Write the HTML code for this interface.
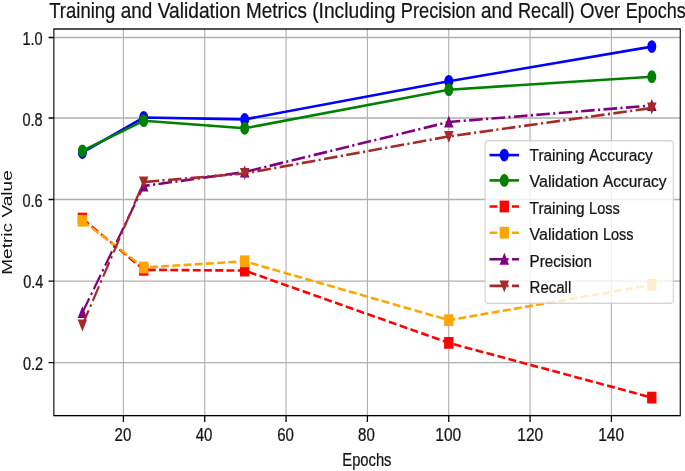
<!DOCTYPE html>
<html><head><meta charset="utf-8"><title>Training and Validation Metrics</title>
<style>
html,body{margin:0;padding:0;background:#fff;}
body{width:685px;height:471px;overflow:hidden;font-family:"Liberation Sans",sans-serif;}
svg{display:block;filter:blur(0.6px);}
</style></head><body>
<svg width="685" height="471" viewBox="0 0 685 471">
<rect x="0" y="0" width="685" height="471" fill="#ffffff"/>
<g transform="scale(1,1.21392)" font-family="'Liberation Sans', sans-serif" fill="#141414" stroke-linecap="butt">
<path d="M123.40 23.89V342.40M204.73 23.89V342.40M286.07 23.89V342.40M367.40 23.89V342.40M448.74 23.89V342.40M530.07 23.89V342.40M611.40 23.89V342.40M53.85 298.70H680.25M53.85 231.56H680.25M53.85 164.34H680.25M53.85 97.21H680.25M53.85 30.89H680.25" stroke="#b0b0b0" stroke-width="1.11" fill="none"/>
<clipPath id="c"><rect x="53.85" y="23.89" width="626.40" height="318.51"/></clipPath>
<g clip-path="url(#c)">
<polyline points="82.40,125.63 143.70,96.79 244.70,98.36 448.80,66.97 651.80,38.39" fill="none" stroke="#0000ff" stroke-width="2.15" stroke-linejoin="round"/>
<g transform="translate(82.40,125.63) scale(0.93,1.08)"><circle cx="0.00" cy="0.00" r="4.17" fill="#0000ff" stroke="#0000ff" stroke-width="1.389"/></g>
<g transform="translate(143.70,96.79) scale(0.93,1.08)"><circle cx="0.00" cy="0.00" r="4.17" fill="#0000ff" stroke="#0000ff" stroke-width="1.389"/></g>
<g transform="translate(244.70,98.36) scale(0.93,1.08)"><circle cx="0.00" cy="0.00" r="4.17" fill="#0000ff" stroke="#0000ff" stroke-width="1.389"/></g>
<g transform="translate(448.80,66.97) scale(0.93,1.08)"><circle cx="0.00" cy="0.00" r="4.17" fill="#0000ff" stroke="#0000ff" stroke-width="1.389"/></g>
<g transform="translate(651.80,38.39) scale(0.93,1.08)"><circle cx="0.00" cy="0.00" r="4.17" fill="#0000ff" stroke="#0000ff" stroke-width="1.389"/></g>
<polyline points="82.40,124.23 143.70,99.43 244.70,105.69 448.80,73.89 651.80,63.18" fill="none" stroke="#008000" stroke-width="2.15" stroke-linejoin="round"/>
<g transform="translate(82.40,124.23) scale(0.93,1.08)"><circle cx="0.00" cy="0.00" r="4.17" fill="#008000" stroke="#008000" stroke-width="1.389"/></g>
<g transform="translate(143.70,99.43) scale(0.93,1.08)"><circle cx="0.00" cy="0.00" r="4.17" fill="#008000" stroke="#008000" stroke-width="1.389"/></g>
<g transform="translate(244.70,105.69) scale(0.93,1.08)"><circle cx="0.00" cy="0.00" r="4.17" fill="#008000" stroke="#008000" stroke-width="1.389"/></g>
<g transform="translate(448.80,73.89) scale(0.93,1.08)"><circle cx="0.00" cy="0.00" r="4.17" fill="#008000" stroke="#008000" stroke-width="1.389"/></g>
<g transform="translate(651.80,63.18) scale(0.93,1.08)"><circle cx="0.00" cy="0.00" r="4.17" fill="#008000" stroke="#008000" stroke-width="1.389"/></g>
<path d="M82.40 180.08L143.70 222.26" fill="none" stroke="#ff0000" stroke-width="2.15" stroke-dasharray="7.841 3.387" stroke-dashoffset="0.00"/>
<path d="M143.70 222.26L244.70 222.91" fill="none" stroke="#ff0000" stroke-width="2.15" stroke-dasharray="7.841 3.387" stroke-dashoffset="74.41"/>
<path d="M244.70 222.91L448.80 282.47" fill="none" stroke="#ff0000" stroke-width="2.15" stroke-dasharray="7.841 3.387" stroke-dashoffset="175.41"/>
<path d="M448.80 282.47L651.80 327.53" fill="none" stroke="#ff0000" stroke-width="2.15" stroke-dasharray="7.841 3.387" stroke-dashoffset="388.02"/>
<g transform="translate(82.40,180.08) scale(0.96,1.0)"><rect x="-4.17" y="-4.17" width="8.33" height="8.33" fill="#ff0000" stroke="#ff0000" stroke-width="1.389"/></g>
<g transform="translate(143.70,222.26) scale(0.96,1.0)"><rect x="-4.17" y="-4.17" width="8.33" height="8.33" fill="#ff0000" stroke="#ff0000" stroke-width="1.389"/></g>
<g transform="translate(244.70,222.91) scale(0.96,1.0)"><rect x="-4.17" y="-4.17" width="8.33" height="8.33" fill="#ff0000" stroke="#ff0000" stroke-width="1.389"/></g>
<g transform="translate(448.80,282.47) scale(0.96,1.0)"><rect x="-4.17" y="-4.17" width="8.33" height="8.33" fill="#ff0000" stroke="#ff0000" stroke-width="1.389"/></g>
<g transform="translate(651.80,327.53) scale(0.96,1.0)"><rect x="-4.17" y="-4.17" width="8.33" height="8.33" fill="#ff0000" stroke="#ff0000" stroke-width="1.389"/></g>
<path d="M82.40 181.81L143.70 220.36" fill="none" stroke="#ffa500" stroke-width="2.15" stroke-dasharray="7.841 3.387" stroke-dashoffset="0.00"/>
<path d="M143.70 220.36L244.70 215.25" fill="none" stroke="#ffa500" stroke-width="2.15" stroke-dasharray="7.841 3.387" stroke-dashoffset="72.42"/>
<path d="M244.70 215.25L448.80 263.77" fill="none" stroke="#ffa500" stroke-width="2.15" stroke-dasharray="7.841 3.387" stroke-dashoffset="173.54"/>
<path d="M448.80 263.77L651.80 234.61" fill="none" stroke="#ffa500" stroke-width="2.15" stroke-dasharray="7.841 3.387" stroke-dashoffset="383.33"/>
<g transform="translate(82.40,181.81) scale(0.96,1.0)"><rect x="-4.17" y="-4.17" width="8.33" height="8.33" fill="#ffa500" stroke="#ffa500" stroke-width="1.389"/></g>
<g transform="translate(143.70,220.36) scale(0.96,1.0)"><rect x="-4.17" y="-4.17" width="8.33" height="8.33" fill="#ffa500" stroke="#ffa500" stroke-width="1.389"/></g>
<g transform="translate(244.70,215.25) scale(0.96,1.0)"><rect x="-4.17" y="-4.17" width="8.33" height="8.33" fill="#ffa500" stroke="#ffa500" stroke-width="1.389"/></g>
<g transform="translate(448.80,263.77) scale(0.96,1.0)"><rect x="-4.17" y="-4.17" width="8.33" height="8.33" fill="#ffa500" stroke="#ffa500" stroke-width="1.389"/></g>
<g transform="translate(651.80,234.61) scale(0.96,1.0)"><rect x="-4.17" y="-4.17" width="8.33" height="8.33" fill="#ffa500" stroke="#ffa500" stroke-width="1.389"/></g>
<path d="M82.40 257.51L143.70 153.22" fill="none" stroke="#800080" stroke-width="2.15" stroke-dasharray="13.557 3.387 2.115 3.387" stroke-dashoffset="0.00"/>
<path d="M143.70 153.22L244.70 141.69" fill="none" stroke="#800080" stroke-width="2.15" stroke-dasharray="13.557 3.387 2.115 3.387" stroke-dashoffset="119.77"/>
<path d="M244.70 141.69L448.80 100.50" fill="none" stroke="#800080" stroke-width="2.15" stroke-dasharray="13.557 3.387 2.115 3.387" stroke-dashoffset="221.43"/>
<path d="M448.80 100.50L651.80 86.91" fill="none" stroke="#800080" stroke-width="2.15" stroke-dasharray="13.557 3.387 2.115 3.387" stroke-dashoffset="428.54"/>
<g transform="translate(82.40,257.51) scale(0.9,0.93)"><polygon points="0.00,-4.17 -4.17,4.17 4.17,4.17" fill="#800080" stroke="#800080" stroke-width="1.389" stroke-linejoin="miter"/></g>
<g transform="translate(143.70,153.22) scale(0.9,0.93)"><polygon points="0.00,-4.17 -4.17,4.17 4.17,4.17" fill="#800080" stroke="#800080" stroke-width="1.389" stroke-linejoin="miter"/></g>
<g transform="translate(244.70,141.69) scale(0.9,0.93)"><polygon points="0.00,-4.17 -4.17,4.17 4.17,4.17" fill="#800080" stroke="#800080" stroke-width="1.389" stroke-linejoin="miter"/></g>
<g transform="translate(448.80,100.50) scale(0.9,0.93)"><polygon points="0.00,-4.17 -4.17,4.17 4.17,4.17" fill="#800080" stroke="#800080" stroke-width="1.389" stroke-linejoin="miter"/></g>
<g transform="translate(651.80,86.91) scale(0.9,0.93)"><polygon points="0.00,-4.17 -4.17,4.17 4.17,4.17" fill="#800080" stroke="#800080" stroke-width="1.389" stroke-linejoin="miter"/></g>
<path d="M82.40 267.73L143.70 149.93" fill="none" stroke="#a52a2a" stroke-width="2.15" stroke-dasharray="13.557 3.387 2.115 3.387" stroke-dashoffset="0.00"/>
<path d="M143.70 149.93L244.70 142.93" fill="none" stroke="#a52a2a" stroke-width="2.15" stroke-dasharray="13.557 3.387 2.115 3.387" stroke-dashoffset="132.80"/>
<path d="M244.70 142.93L448.80 112.36" fill="none" stroke="#a52a2a" stroke-width="2.15" stroke-dasharray="13.557 3.387 2.115 3.387" stroke-dashoffset="234.04"/>
<path d="M448.80 112.36L651.80 88.97" fill="none" stroke="#a52a2a" stroke-width="2.15" stroke-dasharray="13.557 3.387 2.115 3.387" stroke-dashoffset="440.41"/>
<g transform="translate(82.40,267.73) scale(0.9,0.93)"><polygon points="0.00,4.17 -4.17,-4.17 4.17,-4.17" fill="#a52a2a" stroke="#a52a2a" stroke-width="1.389" stroke-linejoin="miter"/></g>
<g transform="translate(143.70,149.93) scale(0.9,0.93)"><polygon points="0.00,4.17 -4.17,-4.17 4.17,-4.17" fill="#a52a2a" stroke="#a52a2a" stroke-width="1.389" stroke-linejoin="miter"/></g>
<g transform="translate(244.70,142.93) scale(0.9,0.93)"><polygon points="0.00,4.17 -4.17,-4.17 4.17,-4.17" fill="#a52a2a" stroke="#a52a2a" stroke-width="1.389" stroke-linejoin="miter"/></g>
<g transform="translate(448.80,112.36) scale(0.9,0.93)"><polygon points="0.00,4.17 -4.17,-4.17 4.17,-4.17" fill="#a52a2a" stroke="#a52a2a" stroke-width="1.389" stroke-linejoin="miter"/></g>
<g transform="translate(651.80,88.97) scale(0.9,0.93)"><polygon points="0.00,4.17 -4.17,-4.17 4.17,-4.17" fill="#a52a2a" stroke="#a52a2a" stroke-width="1.389" stroke-linejoin="miter"/></g>
</g>
<path d="M123.40 342.40v5.2M204.73 342.40v5.2M286.07 342.40v5.2M367.40 342.40v5.2M448.74 342.40v5.2M530.07 342.40v5.2M611.40 342.40v5.2" stroke="#000" stroke-width="1.3" fill="none"/>
<path d="M53.85 298.70h-5.3M53.85 231.56h-5.3M53.85 164.34h-5.3M53.85 97.21h-5.3M53.85 30.89h-5.3" stroke="#000" stroke-width="1.05" fill="none"/>
<rect x="53.85" y="23.89" width="626.40" height="318.51" fill="none" stroke="#000" stroke-width="1.11"/>
<text x="122.90" y="363.53" font-size="14.6" text-anchor="middle" textLength="16.72" lengthAdjust="spacingAndGlyphs" stroke="#141414" stroke-width="0.2">20</text>
<text x="204.10" y="363.53" font-size="14.6" text-anchor="middle" textLength="16.72" lengthAdjust="spacingAndGlyphs" stroke="#141414" stroke-width="0.2">40</text>
<text x="285.60" y="363.53" font-size="14.6" text-anchor="middle" textLength="16.72" lengthAdjust="spacingAndGlyphs" stroke="#141414" stroke-width="0.2">60</text>
<text x="366.40" y="363.53" font-size="14.6" text-anchor="middle" textLength="16.72" lengthAdjust="spacingAndGlyphs" stroke="#141414" stroke-width="0.2">80</text>
<text x="448.30" y="363.53" font-size="14.6" text-anchor="middle" textLength="25.91" lengthAdjust="spacingAndGlyphs" stroke="#141414" stroke-width="0.2">100</text>
<text x="530.30" y="363.53" font-size="14.6" text-anchor="middle" textLength="25.91" lengthAdjust="spacingAndGlyphs" stroke="#141414" stroke-width="0.2">120</text>
<text x="611.10" y="363.53" font-size="14.6" text-anchor="middle" textLength="25.91" lengthAdjust="spacingAndGlyphs" stroke="#141414" stroke-width="0.2">140</text>
<text x="43.20" y="304.63" font-size="14.6" text-anchor="end" textLength="20.20" lengthAdjust="spacingAndGlyphs" stroke="#141414" stroke-width="0.2">0.2</text>
<text x="43.40" y="237.33" font-size="14.6" text-anchor="end" textLength="20.20" lengthAdjust="spacingAndGlyphs" stroke="#141414" stroke-width="0.2">0.4</text>
<text x="42.70" y="170.28" font-size="14.6" text-anchor="end" textLength="20.20" lengthAdjust="spacingAndGlyphs" stroke="#141414" stroke-width="0.2">0.6</text>
<text x="42.70" y="104.04" font-size="14.6" text-anchor="end" textLength="20.20" lengthAdjust="spacingAndGlyphs" stroke="#141414" stroke-width="0.2">0.8</text>
<text x="42.70" y="36.91" font-size="14.6" text-anchor="end" textLength="20.20" lengthAdjust="spacingAndGlyphs" stroke="#141414" stroke-width="0.2">1.0</text>
<text x="366.90" y="384.29" font-size="15.3" text-anchor="middle" textLength="49.20" lengthAdjust="spacingAndGlyphs" stroke="#141414" stroke-width="0.2">Epochs</text>
<text transform="translate(12.3,183.29) rotate(-90)" font-size="14.0" text-anchor="middle" textLength="86.2" lengthAdjust="spacingAndGlyphs">Metric Value</text>
<text x="49.20" y="14.83" font-size="18.3" textLength="66.24" lengthAdjust="spacingAndGlyphs" stroke="#141414" stroke-width="0.2">Training</text><text x="120.77" y="14.83" font-size="18.3" textLength="31.58" lengthAdjust="spacingAndGlyphs" stroke="#141414" stroke-width="0.2">and</text><text x="157.69" y="14.83" font-size="18.3" textLength="82.89" lengthAdjust="spacingAndGlyphs" stroke="#141414" stroke-width="0.2">Validation</text><text x="245.92" y="14.83" font-size="18.3" textLength="60.93" lengthAdjust="spacingAndGlyphs" stroke="#141414" stroke-width="0.2">Metrics</text><text x="312.19" y="14.83" font-size="18.3" textLength="83.29" lengthAdjust="spacingAndGlyphs" stroke="#141414" stroke-width="0.2">(Including</text><text x="400.82" y="14.83" font-size="18.3" textLength="74.90" lengthAdjust="spacingAndGlyphs" stroke="#141414" stroke-width="0.2">Precision</text><text x="481.05" y="14.83" font-size="18.3" textLength="31.58" lengthAdjust="spacingAndGlyphs" stroke="#141414" stroke-width="0.2">and</text><text x="517.97" y="14.83" font-size="18.3" textLength="56.63" lengthAdjust="spacingAndGlyphs" stroke="#141414" stroke-width="0.2">Recall)</text><text x="579.94" y="14.83" font-size="18.3" textLength="40.38" lengthAdjust="spacingAndGlyphs" stroke="#141414" stroke-width="0.2">Over</text><text x="625.65" y="14.83" font-size="18.3" textLength="60.15" lengthAdjust="spacingAndGlyphs" stroke="#141414" stroke-width="0.2">Epochs</text>
<rect x="485.1" y="115.91" width="188.30" height="133.95" rx="2.8" ry="2.8" fill="#ffffff" fill-opacity="0.8" stroke="#cccccc" stroke-opacity="0.8" stroke-width="1.25"/>
<path d="M489.5 127.77H519.0" stroke="#0000ff" stroke-width="2.15" fill="none"/>
<g transform="translate(504.30,127.77) scale(0.93,1.08)"><circle cx="0.00" cy="0.00" r="4.17" fill="#0000ff" stroke="#0000ff" stroke-width="1.389"/></g>
<text x="529.60" y="132.88" font-size="13.7" textLength="55.05" lengthAdjust="spacingAndGlyphs" stroke="#141414" stroke-width="0.2">Training</text><text x="589.08" y="132.88" font-size="13.7" textLength="63.69" lengthAdjust="spacingAndGlyphs" stroke="#141414" stroke-width="0.2">Accuracy</text>
<path d="M489.5 148.61H519.0" stroke="#008000" stroke-width="2.15" fill="none"/>
<g transform="translate(504.30,148.61) scale(0.93,1.08)"><circle cx="0.00" cy="0.00" r="4.17" fill="#008000" stroke="#008000" stroke-width="1.389"/></g>
<text x="529.60" y="154.21" font-size="13.7" textLength="68.88" lengthAdjust="spacingAndGlyphs" stroke="#141414" stroke-width="0.2">Validation</text><text x="602.92" y="154.21" font-size="13.7" textLength="63.69" lengthAdjust="spacingAndGlyphs" stroke="#141414" stroke-width="0.2">Accuracy</text>
<path d="M489.5 170.11H519.0" stroke="#ff0000" stroke-width="2.15" fill="none" stroke-dasharray="7.841 3.387"/>
<g transform="translate(504.30,170.11) scale(0.96,1.0)"><rect x="-4.17" y="-4.17" width="8.33" height="8.33" fill="#ff0000" stroke="#ff0000" stroke-width="1.389"/></g>
<text x="529.60" y="176.21" font-size="13.7" textLength="55.05" lengthAdjust="spacingAndGlyphs" stroke="#141414" stroke-width="0.2">Training</text><text x="589.08" y="176.21" font-size="13.7" textLength="30.60" lengthAdjust="spacingAndGlyphs" stroke="#141414" stroke-width="0.2">Loss</text>
<path d="M489.5 191.69H519.0" stroke="#ffa500" stroke-width="2.15" fill="none" stroke-dasharray="7.841 3.387"/>
<g transform="translate(504.30,191.69) scale(0.96,1.0)"><rect x="-4.17" y="-4.17" width="8.33" height="8.33" fill="#ffa500" stroke="#ffa500" stroke-width="1.389"/></g>
<text x="529.60" y="197.46" font-size="13.7" textLength="68.88" lengthAdjust="spacingAndGlyphs" stroke="#141414" stroke-width="0.2">Validation</text><text x="602.92" y="197.46" font-size="13.7" textLength="30.60" lengthAdjust="spacingAndGlyphs" stroke="#141414" stroke-width="0.2">Loss</text>
<path d="M489.5 213.61H519.0" stroke="#800080" stroke-width="2.15" fill="none" stroke-dasharray="13.557 3.387 2.115 3.387"/>
<g transform="translate(504.30,213.61) scale(0.9,0.93)"><polygon points="0.00,-4.17 -4.17,4.17 4.17,4.17" fill="#800080" stroke="#800080" stroke-width="1.389" stroke-linejoin="miter"/></g>
<text x="529.60" y="219.62" font-size="13.7" textLength="62.25" lengthAdjust="spacingAndGlyphs" stroke="#141414" stroke-width="0.2">Precision</text>
<path d="M489.5 235.52H519.0" stroke="#a52a2a" stroke-width="2.15" fill="none" stroke-dasharray="13.557 3.387 2.115 3.387"/>
<g transform="translate(504.30,235.52) scale(0.9,0.93)"><polygon points="0.00,4.17 -4.17,-4.17 4.17,-4.17" fill="#a52a2a" stroke="#a52a2a" stroke-width="1.389" stroke-linejoin="miter"/></g>
<text x="529.60" y="241.04" font-size="13.7" textLength="41.62" lengthAdjust="spacingAndGlyphs" stroke="#141414" stroke-width="0.2">Recall</text>
</g></svg>
</body></html>
